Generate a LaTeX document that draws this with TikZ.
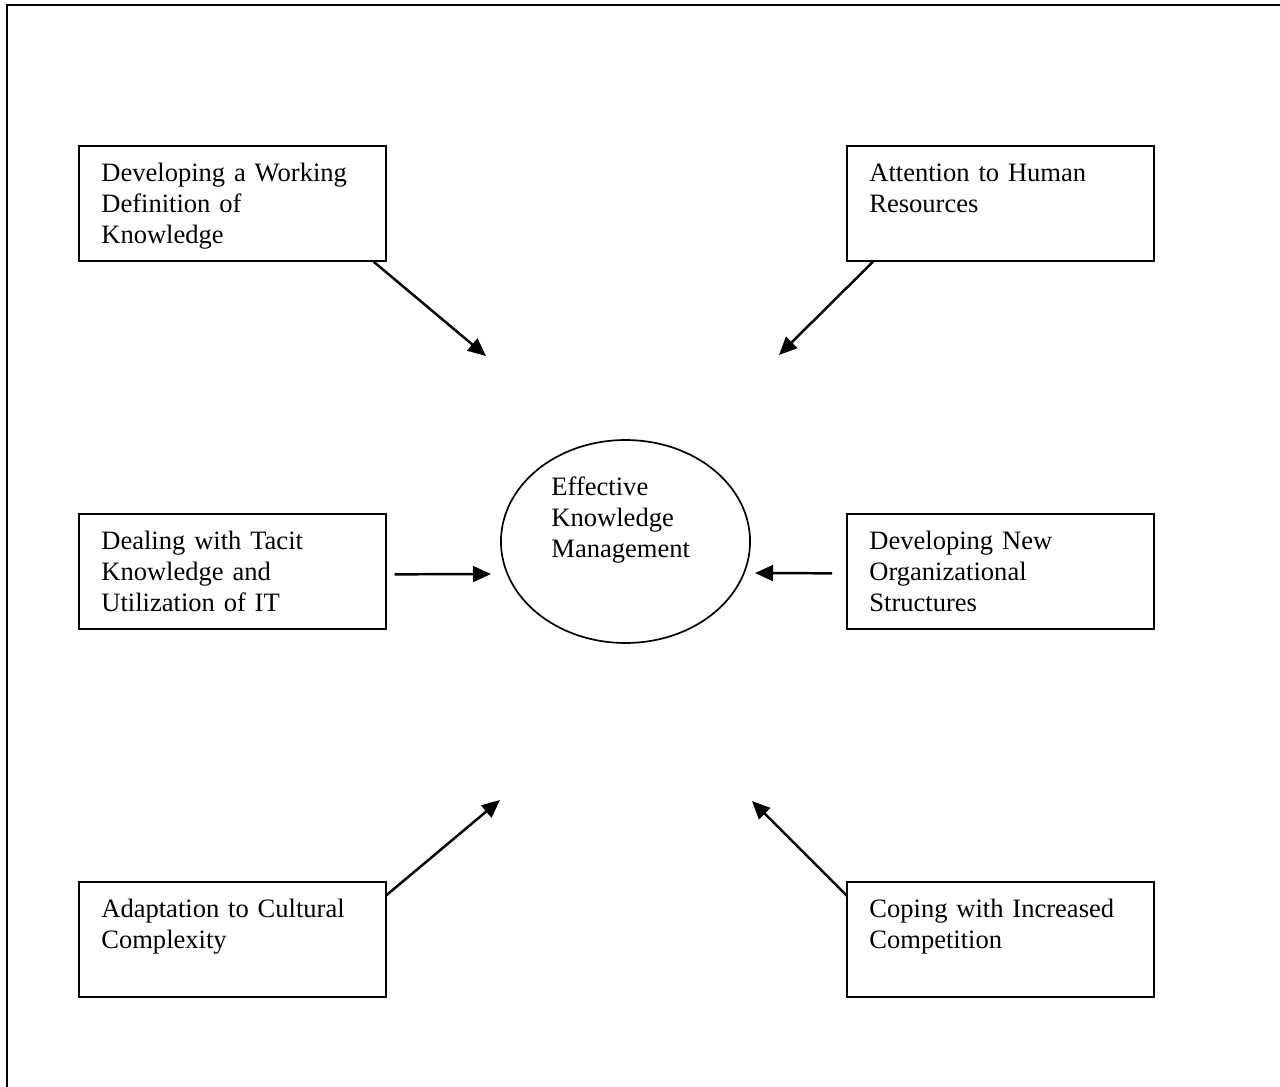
\documentclass[tikz,border=0pt]{standalone}
\usepackage{fontspec}
\setmainfont{Liberation Serif}
\usetikzlibrary{positioning,shapes.geometric,arrows.meta,calc}

\begin{document}
\begin{tikzpicture}[
		x=0.4444pt, y=-0.4444pt,
		frame/.style={draw, line width=1pt},
		box/.style={rectangle, draw, line width=0.75pt, anchor=north west, align=left,
			minimum width=136.4pt, inner xsep=9.6pt, inner ysep=0pt, text width=116.4pt,
			text height=16pt, text depth=35.1pt, font=\fontsize{11.8}{13.8}\selectfont},
		goal/.style={ellipse, draw, line width=0.75pt, minimum width=110.7pt,
			minimum height=90.2pt, inner sep=0pt},
		goaltext/.style={anchor=base west, align=left, inner sep=0pt, text width=70pt,
			font=\fontsize{11.8}{13.8}\selectfont},
		link/.style={-{Triangle[length=8pt,width=7pt]}, line width=1.1pt}
]

\useasboundingbox (0,0) rectangle (1280,1086);
\draw [frame] (7,5) rectangle (1300,1100);

\node [box] (Definition) at (78,145) {Developing a Working\\ Definition of\\ Knowledge};
\node [box] (Human) at (846,145) {Attention to Human\\ Resources};
\node [box] (Tacit) at (78,513) {Dealing with Tacit\\ Knowledge and\\ Utilization of IT};
\node [box] (Structures) at (846,513) {Developing New\\ Organizational\\ Structures};
\node [box] (Culture) at (78,881) {Adaptation to Cultural\\ Complexity};
\node [box] (Competition) at (846,881) {Coping with Increased\\ Competition};

\node [goal] (EKM) at (625.5,541.5) {};
\node [goaltext] (EKMText) at (551,495) {Effective\\ Knowledge\\ Management};

\coordinate (DefinitionTip) at (486,356);
\coordinate (HumanTip) at (779,355);
\coordinate (TacitTip) at (491,574);
\coordinate (StructuresTip) at (755,573);
\coordinate (CultureTip) at (500,800);
\coordinate (CompetitionTip) at (752,801);

\draw [link] ($(Definition.south east)+(-13,0)$) -- (DefinitionTip);
\draw [link] ($(Human.south west)+(27,0)$) -- (HumanTip);
\draw [link] ($(Tacit.east)+(8,3)$) -- (TacitTip);
\draw [link] ($(Structures.west)+(-14,2)$) -- (StructuresTip);
\draw [link] ($(Culture.north east)+(0,14)$) -- (CultureTip);
\draw [link] ($(Competition.north west)+(1,15)$) -- (CompetitionTip);

\end{tikzpicture}
\end{document}
